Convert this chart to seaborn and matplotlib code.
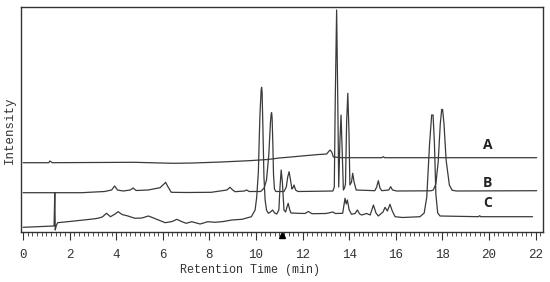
import numpy as np
import pandas as pd
import matplotlib
matplotlib.use('Agg')
import matplotlib.pyplot as plt
import seaborn as sns
from matplotlib.ticker import MultipleLocator

rt_a = [0.0, 1.1, 1.15, 1.25, 3.0, 4.8, 5.9, 6.5, 7.3, 8.5, 9.7, 10.5, 11.0, 11.5,
        12.1, 12.7, 13.03, 13.12, 13.18, 13.25, 13.32, 13.68, 15.4, 15.46, 15.52, 22.05]
int_a = [69.3, 69.3, 71.0, 69.3, 69.5, 69.7, 69.0, 68.7, 69.0, 70.0, 71.3, 72.5, 74.0, 75.0,
         76.3, 77.5, 78.0, 80.5, 82.0, 80.0, 75.0, 74.3, 74.3, 75.3, 74.3, 74.3]

rt_b = [0.0, 2.5, 3.5, 3.8, 3.93, 4.05, 4.3, 4.6, 4.72, 4.85, 5.37, 5.88, 6.05, 6.12,
        6.2, 6.36, 7.0, 8.08, 8.75, 8.88, 9.0, 9.1, 9.5, 9.6, 9.7, 10.2, 10.35, 10.45,
        10.55, 10.62, 10.65, 10.67, 10.69, 10.72, 10.75, 10.79, 10.85, 11.2, 11.3, 11.36,
        11.42, 11.48, 11.54, 11.58, 11.63, 11.7, 11.8, 12.5, 13.3, 13.36, 13.40, 13.46,
        13.51, 13.55, 13.60, 13.65, 13.70, 13.75, 13.80, 13.84, 13.89, 13.94, 13.99, 14.03,
        14.10, 14.15, 14.21, 14.30, 15.1, 15.18, 15.25, 15.32, 15.4, 15.7, 15.78, 15.86,
        16.04, 17.5, 17.61, 17.72, 17.82, 17.91, 17.97, 18.01, 18.07, 18.16, 18.3, 18.42,
        18.6, 22.05]
int_b = [39.3, 39.3, 40.5, 42.0, 46.0, 42.0, 41.0, 42.0, 44.0, 41.5, 42.0, 44.3, 48.0, 49.7,
         46.0, 39.7, 39.5, 39.7, 42.0, 44.7, 42.0, 40.3, 41.0, 42.0, 40.5, 40.5, 44.0, 52.0,
         78.0, 110.0, 118.0, 119.3, 114.0, 90.0, 58.0, 43.0, 40.5, 40.5, 45.0, 55.0,
         60.3, 52.0, 43.0, 44.0, 47.0, 42.0, 40.5, 40.7, 41.0, 45.0, 130.0, 222.0,
         130.0, 45.0, 90.0, 117.0, 80.0, 42.0, 44.0, 48.0, 110.0, 138.7, 100.0, 47.0,
         50.0, 58.7, 50.0, 42.0, 41.3, 45.0, 51.3, 44.0, 41.3, 42.0, 45.3, 42.0,
         41.0, 41.2, 42.0, 48.0, 70.0, 108.0, 122.5, 122.5, 108.0, 72.0, 47.0, 41.8,
         41.0, 41.3]

rt_c = [0.0, 1.33, 1.36, 1.38, 1.42, 1.48, 2.0, 3.0, 3.2, 3.4, 3.58, 3.75, 3.95, 4.08,
        4.25, 4.5, 4.8, 5.1, 5.38, 5.6, 6.1, 6.4, 6.6, 6.8, 7.0, 7.24, 7.6, 7.93, 8.25,
        8.6, 8.96, 9.4, 9.8, 9.96, 10.03, 10.10, 10.14, 10.17, 10.22, 10.24, 10.26, 10.29,
        10.34, 10.39, 10.45, 10.53, 10.62, 10.71, 10.8, 10.89, 10.98, 11.03, 11.08, 11.13,
        11.2, 11.27, 11.33, 11.38, 11.45, 11.5, 11.8, 12.1, 12.25, 12.4, 13.0, 13.3, 13.4,
        13.72, 13.82, 13.87, 13.92, 14.0, 14.1, 14.25, 14.35, 14.45, 14.54, 14.75, 14.9,
        15.04, 15.15, 15.25, 15.45, 15.54, 15.64, 15.75, 15.85, 15.97, 16.3, 17.04, 17.22,
        17.33, 17.45, 17.54, 17.60, 17.66, 17.72, 17.8, 17.9, 19.55, 19.6, 19.65, 21.87]
int_c = [4.7, 6.0, 39.3, 2.0, 6.0, 9.3, 10.5, 13.0, 13.7, 15.0, 18.7, 15.3, 18.0, 20.3,
         17.5, 16.0, 13.7, 14.0, 16.0, 14.0, 9.3, 10.5, 12.7, 10.5, 8.7, 10.3, 8.0, 10.3, 9.7,
         10.5, 12.0, 12.7, 15.3, 22.0, 35.0, 60.0, 95.0, 118.0, 142.0, 144.7, 140.0, 110.0,
         55.0, 32.0, 22.0, 18.7, 20.0, 22.0, 19.0, 18.0, 22.0, 45.0, 62.0, 50.0,
         22.0, 20.0, 25.0, 28.7, 22.0, 19.0, 18.7, 18.5, 20.5, 18.3, 18.5, 20.0, 18.5,
         18.7, 33.7, 28.0, 32.0, 22.0, 17.7, 18.5, 22.0, 18.0, 17.0, 18.5, 17.0,
         27.0, 19.0, 16.0, 20.0, 24.7, 21.0, 27.7, 21.0, 15.3, 14.5, 15.3, 19.0,
         35.0, 88.0, 117.0, 117.0, 88.0, 38.0, 19.0, 16.0, 15.3, 16.3, 15.3, 15.3]

trace_names = ['A', 'B', 'C']
marker_rt = [11.1]

line_color = '#3a3a3a'
mono = 'Liberation Mono'

sns.set_style('ticks')
fig = plt.figure(figsize=(5.5, 2.82), dpi=100)
ax = fig.add_axes([21 / 550, 50 / 282, 522 / 550, 225 / 282])

for rt, inten in [(rt_a, int_a), (rt_b, int_b), (rt_c, int_c)]:
    sns.lineplot(x=rt, y=inten, ax=ax, color=line_color, linewidth=0.9,
                 estimator=None, sort=False)

# etiquetas de cada traza
label_pos = {'A': 87, 'B': 49, 'C': 29}
for name in trace_names:
    ax.text(19.95, label_pos[name], name, fontsize=10, fontweight='bold',
            family='Open Sans', color='#222222', ha='center', va='center')

ax.set_xlim(-0.09, 22.32)
ax.set_ylim(0, 225)
ax.xaxis.set_major_locator(MultipleLocator(2))
ax.xaxis.set_minor_locator(MultipleLocator(0.2))
ax.set_yticks([])
ax.tick_params(axis='x', which='major', direction='out', length=5.5, width=0.8,
               pad=7, labelsize=9, colors='#333333')
ax.tick_params(axis='x', which='minor', direction='out', length=2.8, width=0.6,
               colors='#333333')
for lab in ax.get_xticklabels():
    lab.set_family(mono)

for sp in ax.spines.values():
    sp.set_visible(True)
    sp.set_color('#333333')
    sp.set_linewidth(1.0)

ax.set_xlabel('Retention Time (min)', family=mono, fontsize=8.5, color='#333333')
ax.xaxis.set_label_coords(0.439, -0.14)
ax.set_ylabel('Intensity', family=mono, fontsize=9, color='#333333')
ax.yaxis.set_label_coords(-0.01, 0.453)

ax.plot(marker_rt, [-0.012], marker='^', markersize=4, color='black', linestyle='none',
        transform=ax.get_xaxis_transform(), clip_on=False)

fig.savefig('out.png', dpi=100)
